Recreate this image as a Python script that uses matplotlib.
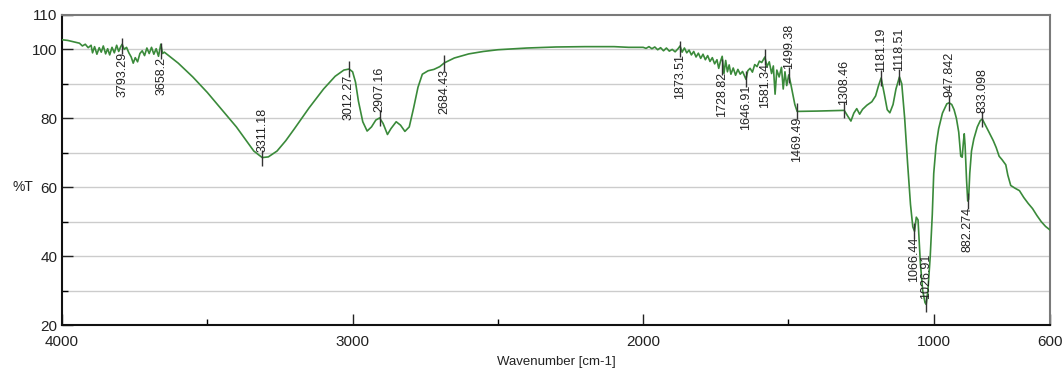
import matplotlib
matplotlib.use("Agg")
import matplotlib.pyplot as plt

# FT-IR spectrum
wavenumber = [
    4000, 3980, 3960, 3940, 3930, 3920, 3910, 3900, 3895, 3888, 3880, 3872, 3865, 3858,
    3850, 3843, 3836, 3828, 3820, 3812, 3805, 3798, 3793, 3786, 3778, 3770, 3762, 3755,
    3748, 3740, 3732, 3724, 3716, 3708, 3700, 3692, 3684, 3676, 3668, 3660, 3654, 3648,
    3600, 3550, 3500, 3450, 3400, 3370, 3340, 3311, 3290, 3260, 3230, 3200, 3150, 3100,
    3060, 3030, 3012, 3000, 2990, 2980, 2965, 2950, 2935, 2920, 2907, 2895, 2880, 2868,
    2850, 2835, 2820, 2805, 2790, 2775, 2760, 2740, 2720, 2700, 2684, 2650, 2600, 2550,
    2500, 2400, 2300, 2200, 2100, 2050, 2000, 1990, 1980, 1970, 1960, 1950, 1940, 1930,
    1920, 1910, 1900, 1890, 1880, 1873, 1866, 1858, 1850, 1842, 1834, 1826, 1818, 1810,
    1802, 1794, 1786, 1778, 1770, 1762, 1754, 1746, 1740, 1734, 1728, 1722, 1716, 1710,
    1704, 1698, 1690, 1682, 1674, 1666, 1658, 1646, 1640, 1632, 1624, 1616, 1608, 1600,
    1592, 1581, 1574, 1566, 1558, 1552, 1546, 1540, 1532, 1524, 1518, 1512, 1506, 1499,
    1492, 1485, 1478, 1470, 1400, 1308, 1295, 1285, 1275, 1265, 1255, 1245, 1230, 1213,
    1200, 1190, 1181, 1170, 1160, 1151, 1140, 1130, 1118, 1110, 1100, 1090, 1080, 1072,
    1066, 1060, 1054, 1046, 1038, 1030, 1026, 1020, 1012, 1005, 1000, 992, 983, 970,
    955, 947, 938, 930, 922, 914, 907, 902, 898, 895, 892, 887, 883, 880, 876, 870,
    862, 850, 840, 833, 825, 810, 795, 785, 775, 765, 752, 745, 735, 720, 705, 690,
    675, 660, 645, 630, 615, 600,
]
transmittance = [
    102.8, 102.6, 102.2, 101.8, 101.0, 101.5, 100.5, 101.2, 99.0, 100.8, 98.6, 100.5, 99.2, 101.0,
    98.7, 100.2, 98.4, 100.6, 99.0, 101.2, 99.4, 100.8, 101.5, 100.0, 100.6, 99.0, 97.8, 96.0,
    97.6, 96.4, 98.8, 99.6, 98.2, 100.4, 98.8, 100.6, 98.6, 100.2, 98.0, 101.5, 98.8, 99.2,
    96.0, 92.0, 87.5, 82.5, 77.5, 74.0, 70.5, 68.6, 68.8, 70.5, 73.5, 77.0, 83.0, 88.5,
    92.2, 94.0, 94.3, 93.5, 90.5, 85.0, 79.0, 76.3, 77.5, 79.5, 80.1, 78.5, 75.3, 77.0,
    79.0, 78.0, 76.2, 77.5, 83.0, 89.0, 92.8, 93.8, 94.2, 95.0, 96.1, 97.5, 98.7, 99.4,
    99.9, 100.4, 100.7, 100.8, 100.8, 100.6, 100.6, 100.3, 100.8, 100.2, 100.7, 99.9, 100.5, 99.6,
    100.4, 99.5, 100.0, 99.3, 100.2, 101.0, 99.2, 100.4, 99.0, 99.8, 98.4, 99.4, 97.8, 98.9,
    97.4, 98.6, 97.0, 98.2, 96.5, 97.6, 95.8, 97.0, 94.5, 96.5, 98.0, 93.0, 96.8, 93.5,
    95.5, 92.8, 94.6, 92.5, 94.2, 92.8, 93.6, 91.3, 93.8, 94.5, 93.4, 95.6, 95.0, 96.6,
    96.2, 97.8, 95.0, 96.4, 93.0, 95.2, 87.0, 94.0, 92.0, 94.8, 88.5, 93.5, 89.5, 92.6,
    90.0, 87.0, 84.0, 82.0, 82.1, 82.3, 80.5, 79.2, 81.5, 82.8, 81.2, 82.6, 83.8, 84.8,
    86.5, 89.5, 91.7, 87.0, 82.5, 81.6, 84.0, 88.5, 92.0, 90.0, 80.0, 67.0, 55.0, 48.5,
    47.2, 51.3, 50.5, 38.0, 30.0, 26.5, 26.0, 30.0, 40.0, 52.0, 64.0, 72.0, 77.0, 81.5,
    84.2, 84.5, 84.0, 82.5, 80.0, 76.0, 69.0, 68.7, 73.0, 75.5, 72.0, 62.0, 56.0, 56.5, 64.0, 70.5,
    74.0, 77.5, 79.3, 79.8, 78.5, 76.0, 73.5, 71.5, 69.0, 68.0, 66.5, 63.5, 60.5, 59.7, 59.0, 57.0,
    55.3, 53.8, 51.8, 50.0, 48.6, 47.6,
]

# peak picks: position, %T at the mark, label, side of the text
peak_pos = [3793.29, 3658.2, 3311.18, 3012.27, 2907.16, 2684.43, 1873.51, 1728.82, 1646.91,
            1581.34, 1499.38, 1469.49, 1308.46, 1181.19, 1118.51, 1066.44, 1026.91, 947.842,
            882.274, 833.098]
peak_t = [101.0, 99.5, 68.6, 94.3, 80.1, 96.1, 100.2, 95.0, 91.3,
          97.8, 92.6, 82.0, 82.3, 91.7, 92.0, 47.2, 26.0, 84.5,
          56.0, 79.8]
peak_text = ["3793.29", "3658.2", "3311.18", "3012.27", "2907.16", "2684.43", "1873.51",
             "1728.82", "1646.91", "1581.34", "1499.38", "1469.49", "1308.46", "1181.19",
             "1118.51", "1066.44", "1026.91", "947.842", "882.274", "833.098"]
peak_side = ["below", "below", "above", "below", "above", "below", "below", "below", "below",
             "below", "above", "below", "above", "above", "above", "below", "above", "above",
             "below", "above"]

plt.rcParams['font.family'] = ['Liberation Sans', 'DejaVu Sans']

fig = plt.figure(figsize=(10.64, 3.70), dpi=100)
ax = fig.add_axes([0.0583, 0.1216, 0.9285, 0.838])

ax.plot(wavenumber, transmittance, color='#3a8a3a', linewidth=1.2, zorder=3)

for x, y, txt, side in zip(peak_pos, peak_t, peak_text, peak_side):
    ax.plot([x], [y], marker='|', markersize=11, markeredgewidth=1.0, color='#333333', zorder=4)
    if side == "above":
        ax.annotate(txt, (x, y), xytext=(0, 4), textcoords='offset points', rotation=90,
                    ha='center', va='bottom', fontsize=9, color='#222222', zorder=5)
    else:
        ax.annotate(txt, (x, y), xytext=(0, -4), textcoords='offset points', rotation=90,
                    ha='center', va='top', fontsize=9, color='#222222', zorder=5)

ax.set_xlim(4000, 600)
ax.set_ylim(20, 110)
ax.set_xticks([4000, 3000, 2000, 1000, 600])
ax.set_xticks([3500, 2500, 1500], minor=True)
ax.set_yticks([20, 40, 60, 80, 100, 110])
ax.set_yticks([30, 50, 70, 90], minor=True)
ax.tick_params(which='major', direction='in', length=8, width=1, labelsize=11, colors='#222222')
ax.tick_params(which='minor', direction='in', length=4, width=1)
ax.tick_params(axis='x', pad=7)

for yv in range(30, 110, 10):
    ax.axhline(yv, color='#cccccc', linewidth=1.0, zorder=1)

for s in ['left', 'bottom']:
    ax.spines[s].set_color('#111111')
    ax.spines[s].set_linewidth(1.5)
for s in ['top', 'right']:
    ax.spines[s].set_color('#7a7a7a')
    ax.spines[s].set_linewidth(1.5)

ax.set_xlabel('Wavenumber [cm-1]', fontsize=9.5, color='#222222', labelpad=5)
fig.text(0.012, 0.495, '%T', fontsize=10, color='#222222', va='center')

fig.savefig('out.png', dpi=100)
